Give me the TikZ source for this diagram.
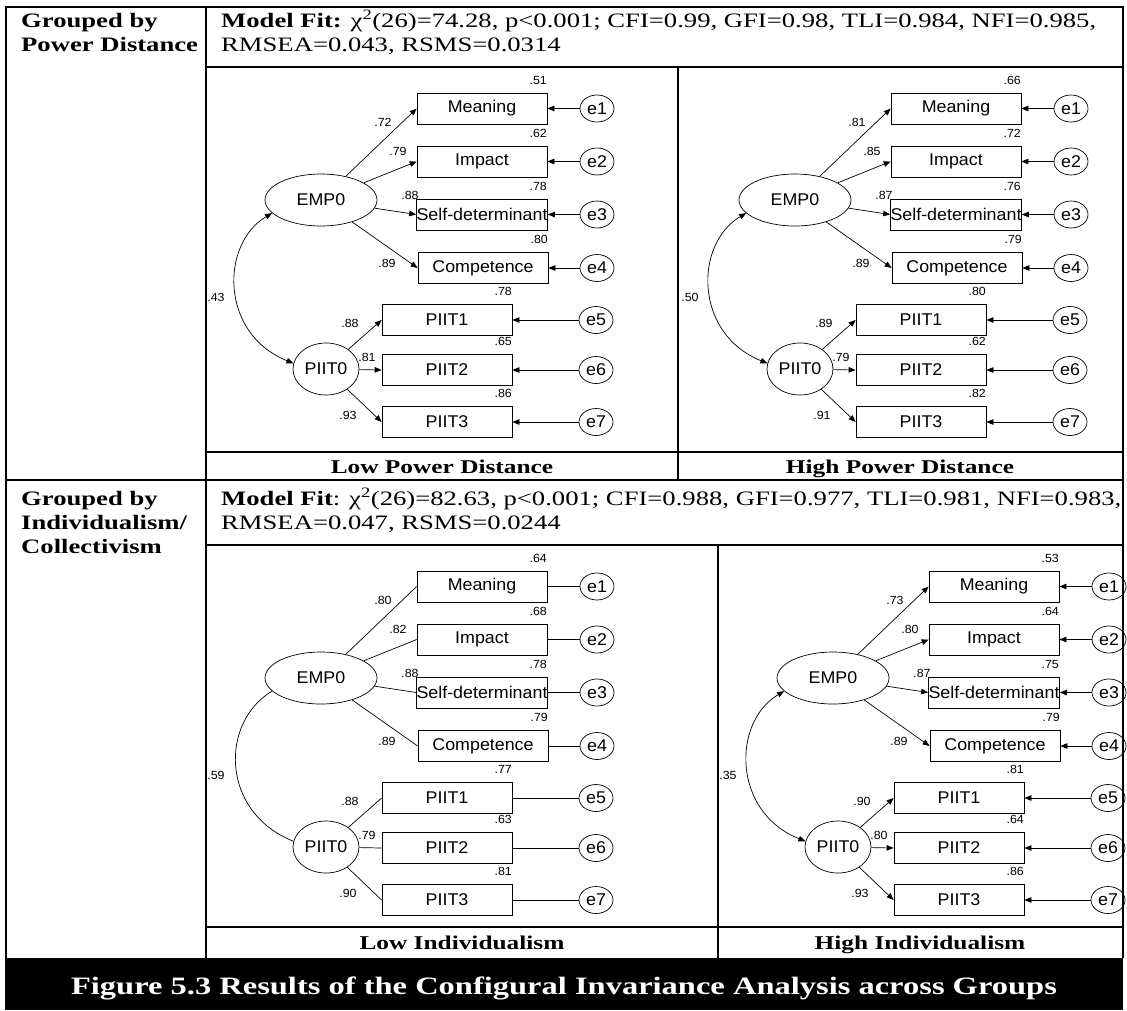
\documentclass[tikz,border=0pt]{standalone}
\usepackage{fontspec}
\setmainfont[FakeStretch=1.3]{Liberation Serif}
\newfontfamily\semfont[FakeStretch=1.05]{Liberation Sans}
\usetikzlibrary{shapes.geometric,arrows.meta}

\def\setR#1/#2/#3/#4/#5/#6/#7\relax{\def\rA{#1}\def\rB{#2}\def\rC{#3}\def\rD{#4}\def\rE{#5}\def\rF{#6}\def\rG{#7}}
\def\setL#1/#2/#3/#4/#5/#6/#7\relax{\def\lA{#1}\def\lB{#2}\def\lC{#3}\def\lD{#4}\def\lE{#5}\def\lF{#6}\def\lG{#7}}

\newcommand\sempanel[7]{%
 \setR#5\relax\setL#6\relax
 \begin{scope}[shift={(#1,#2)},#4]
  \node[lat, minimum width=112pt, minimum height=52pt] (#3emp) at (116,131) {EMP0};
  \node[lat, minimum width=66pt, minimum height=52pt] (#3pit) at (121,300) {PIIT0};
  \node[obs] (#3m1) at (277,39.5) {Meaning};
  \node[obs] (#3m2) at (277,92.5) {Impact};
  \node[obs] (#3m3) at (277,145.5) {Self-determinant};
  \node[obs] (#3m4) at (278,199) {Competence};
  \node[obs] (#3m5) at (242,251) {PIIT1};
  \node[obs] (#3m6) at (242,301) {PIIT2};
  \node[obs] (#3m7) at (242,353) {PIIT3};
  \node[err] (#3e1) at (392,39.5) {e1};
  \node[err] (#3e2) at (392,92.5) {e2};
  \node[err] (#3e3) at (392,145.5) {e3};
  \node[err] (#3e4) at (392,199) {e4};
  \node[err] (#3e5) at (391,251) {e5};
  \node[err] (#3e6) at (391,301) {e6};
  \node[err] (#3e7) at (391,353) {e7};
  \foreach \k in {1,2,3,4} {\draw[ptip] (#3emp) -- (#3m\k.west);}
  \foreach \k in {5,6,7} {\draw[ptip] (#3pit) -- (#3m\k.west);}
  \foreach \k in {1,...,7} {\draw[ptip] (#3e\k) -- (#3m\k.east);}
  \draw[ctip] (#3emp.195) .. controls (15,175) and (15,265) .. (#3pit.170);
  \node[lab, anchor=base east] (#3r1) at (342,15) {\rA};
  \node[lab, anchor=base east] (#3r2) at (342,68) {\rB};
  \node[lab, anchor=base east] (#3r3) at (342,121) {\rC};
  \node[lab, anchor=base east] (#3r4) at (343,174.5) {\rD};
  \node[lab, anchor=base east] (#3r5) at (307,226.5) {\rE};
  \node[lab, anchor=base east] (#3r6) at (307,276.5) {\rF};
  \node[lab, anchor=base east] (#3r7) at (307,328.5) {\rG};
  \node[lab] (#3l1) at (178,53) {\lA};
  \node[lab] (#3l2) at (193,82) {\lB};
  \node[lab] (#3l3) at (205,126) {\lC};
  \node[lab] (#3l4) at (182,194) {\lD};
  \node[lab] (#3l5) at (145,254) {\lE};
  \node[lab] (#3l6) at (162,288) {\lF};
  \node[lab] (#3l7) at (143,346) {\lG};
  \node[lab] (#3cv) at (11,228) {#7};
 \end{scope}}

\begin{document}
\begin{tikzpicture}[x=1pt,y=-1pt,
  tline/.style={line width=1.8pt},
  sline/.style={line width=0.7pt},
  obs/.style={draw, sline, rectangle, minimum width=130pt, minimum height=31pt, inner sep=0pt, font=\semfont\fontsize{17}{17}\selectfont},
  lat/.style={draw, sline, ellipse, inner sep=0pt, font=\semfont\fontsize{17}{17}\selectfont},
  err/.style={draw, sline, ellipse, minimum width=34pt, minimum height=27pt, inner sep=0pt, font=\semfont\fontsize{17}{17}\selectfont},
  lab/.style={inner sep=0pt, font=\semfont\fontsize{11.8}{12}\selectfont},
  hdr/.style={inner sep=0pt, font=\fontsize{20.5}{24}\selectfont},
  hdrb/.style={inner sep=0pt, font=\bfseries\fontsize{20.5}{24}\selectfont},
  grp/.style={inner sep=0pt, font=\bfseries\fontsize{19.5}{24}\selectfont},
  withtips/.style={ptip/.style={sline,-{Triangle[length=7pt,width=5.5pt]}},
                   ctip/.style={sline,{Triangle[length=7pt,width=5.5pt]}-{Triangle[length=7pt,width=5.5pt]}}},
  notips/.style={ptip/.style={sline}, ctip/.style={sline}}
]
\useasboundingbox (0,0) rectangle (1127,1010);

% caption bar
\fill[black] (5,958) rectangle (1123,1010);
\node[inner sep=0pt, text=white, font=\bfseries\fontsize{25}{28}\selectfont, anchor=base] (cap) at (564,994)
  {Figure 5.3 Results of the Configural Invariance Analysis across Groups};

% table lines
\draw[tline] (6,958) -- (6,7) -- (1123,7) -- (1123,958);
\draw[tline] (206,7) -- (206,958);
\draw[tline] (206,67) -- (1123,67);
\draw[tline] (206,452) -- (1123,452);
\draw[tline] (6,480) -- (1123,480);
\draw[tline] (678,67) -- (678,480);
\draw[tline] (206,545) -- (1123,545);
\draw[tline] (206,927) -- (1123,927);
\draw[tline] (718,545) -- (718,958);

% left column
\node[hdrb, anchor=base west] (g1a) at (21,27) {Grouped by};
\node[hdrb, anchor=base west] (g1b) at (21,51) {Power Distance};
\node[hdrb, anchor=base west] (g2a) at (21,505) {Grouped by};
\node[hdrb, anchor=base west] (g2b) at (21,529) {Individualism/};
\node[hdrb, anchor=base west] (g2c) at (21,553) {Collectivism};

% headers
\node[hdr, anchor=base west] (h1a) at (221,27) {\textbf{Model Fit:} χ\textsuperscript{2}(26)=74.28, p<0.001; CFI=0.99, GFI=0.98, TLI=0.984, NFI=0.985,};
\node[hdr, anchor=base west] (h1b) at (221,51) {RMSEA=0.043, RSMS=0.0314};
\node[hdr, anchor=base west] (h2a) at (221,505) {\textbf{Model Fit}: χ\textsuperscript{2}(26)=82.63, p<0.001; CFI=0.988, GFI=0.977, TLI=0.981, NFI=0.983,};
\node[hdr, anchor=base west] (h2b) at (221,529) {RMSEA=0.047, RSMS=0.0244};

% group labels
\node[grp, anchor=base] (t1) at (442,473) {Low Power Distance};
\node[grp, anchor=base] (t2) at (900,473) {High Power Distance};
\node[grp, anchor=base] (t3) at (462,949) {Low Individualism};
\node[grp, anchor=base] (t4) at (920,949) {High Individualism};

% panels
\sempanel{205}{69}{a}{withtips}{.51/.62/.78/.80/.78/.65/.86}{.72/.79/.88/.89/.88/.81/.93}{.43}
\sempanel{679}{69}{b}{withtips}{.66/.72/.76/.79/.80/.62/.82}{.81/.85/.87/.89/.89/.79/.91}{.50}
\sempanel{205}{547}{c}{notips}{.64/.68/.78/.79/.77/.63/.81}{.80/.82/.88/.89/.88/.79/.90}{.59}
\sempanel{717}{547}{d}{withtips}{.53/.64/.75/.79/.81/.64/.86}{.73/.80/.87/.89/.90/.80/.93}{.35}
\end{tikzpicture}
\end{document}
